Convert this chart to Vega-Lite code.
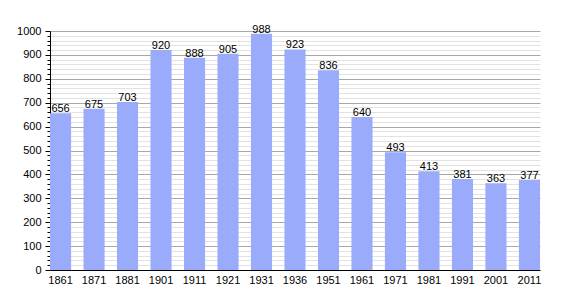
{
  "$schema": "https://vega.github.io/schema/vega-lite/v6.json",
  "width": 490,
  "height": 239,
  "autosize": "none",
  "padding": {"left": 50, "top": 31, "right": 30, "bottom": 30},
  "background": "white",
  "config": {
    "view": {"stroke": null},
    "font": "Liberation Sans"
  },
  "data": {
    "values": [
      {"year": "1861", "pop": 656},
      {"year": "1871", "pop": 675},
      {"year": "1881", "pop": 703},
      {"year": "1901", "pop": 920},
      {"year": "1911", "pop": 888},
      {"year": "1921", "pop": 905},
      {"year": "1931", "pop": 988},
      {"year": "1936", "pop": 923},
      {"year": "1951", "pop": 836},
      {"year": "1961", "pop": 640},
      {"year": "1971", "pop": 493},
      {"year": "1981", "pop": 413},
      {"year": "1991", "pop": 381},
      {"year": "2001", "pop": 363},
      {"year": "2011", "pop": 377}
    ]
  },
  "encoding": {
    "x": {
      "field": "year", "type": "ordinal",
      "scale": {"paddingInner": 0.37, "paddingOuter": 0},
      "axis": {
        "title": null, "labelAngle": 0, "labelFontSize": 11, "labelColor": "#000",
        "domainColor": "#000", "ticks": false, "labelPadding": 4
      }
    },
    "y": {
      "field": "pop", "type": "quantitative",
      "scale": {"domain": [0, 1000], "nice": false},
      "axis": {
        "title": null,
        "format": "d",
        "values": [0,20,40,60,80,100,120,140,160,180,200,220,240,260,280,300,320,340,360,380,400,420,440,460,480,500,520,540,560,580,600,620,640,660,680,700,720,740,760,780,800,820,840,860,880,900,920,940,960,980,1000],
        "labelExpr": "datum.value % 100 === 0 ? datum.label : ''",
        "labelOverlap": false,
        "labelFontSize": 11, "labelColor": "#000", "labelPadding": 4,
        "domainColor": "#000",
        "tickColor": "#000",
        "tickSize": {"condition": {"test": "datum.value % 100 === 0", "value": 5}, "value": 3},
        "gridColor": {"condition": {"test": "datum.value % 100 === 0", "value": "#a8a8a8"}, "value": "#e2e2e2"},
        "gridWidth": 1
      }
    }
  },
  "layer": [
    {"mark": {"type": "bar", "color": "#9aabfb"}},
    {
      "mark": {"type": "text", "baseline": "bottom", "dy": 1, "fontSize": 11, "color": "#000"},
      "encoding": {"text": {"field": "pop", "type": "quantitative"}}
    }
  ]
}
